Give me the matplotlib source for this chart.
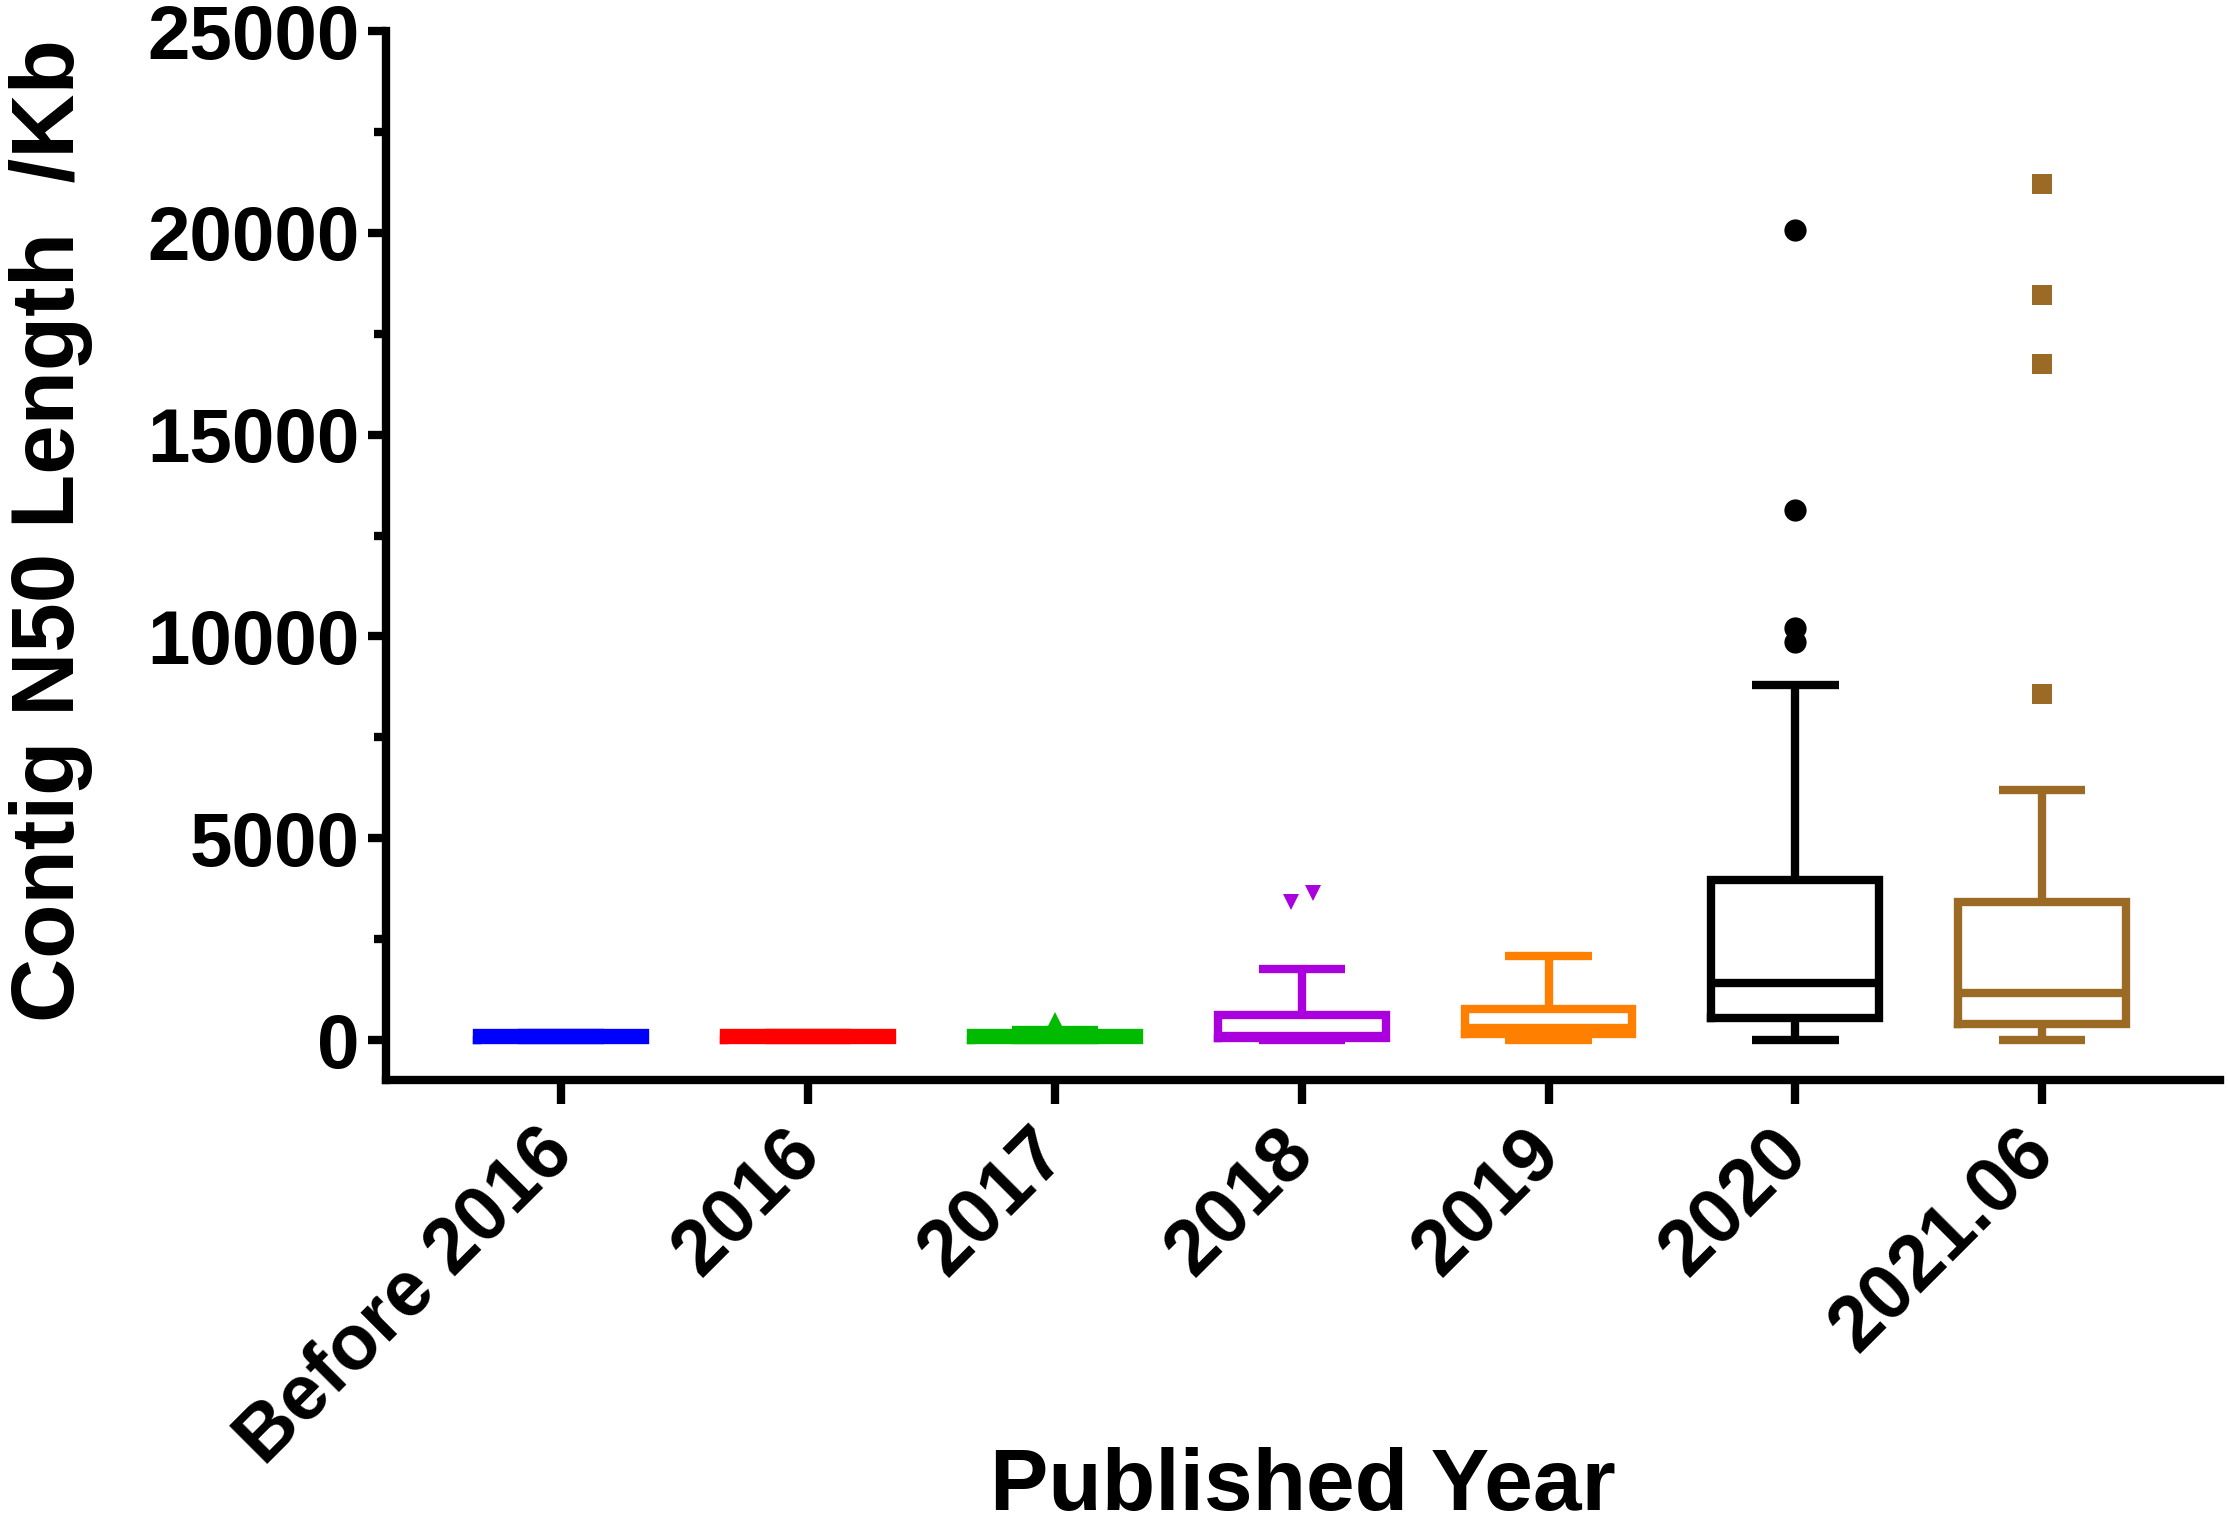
import matplotlib
matplotlib.use('Agg')
import matplotlib.pyplot as plt
from matplotlib.ticker import MultipleLocator

plt.rcParams['font.family'] = ['Liberation Sans', 'DejaVu Sans']
plt.rcParams['font.weight'] = 'bold'

# values (Kb)
categories = ['Before 2016', '2016', '2017', '2018', '2019', '2020', '2021.06']
whislo = [0, 0, 0, 0, 5, 0, 0]
q1 = [0, 0, 0, 60, 140, 537, 392]
med = [40, 40, 40, 110, 290, 1425, 1178]
q3 = [180, 180, 180, 632, 773, 3954, 3425]
whishi = [180, 180, 260, 1765, 2095, 8788, 6185]
outliers = [[], [], [500], [3430, 3640], [], [9860, 10200, 13140, 20080], [8580, 16750, 18470, 21200]]

colors = ['#0000FF', '#FF0000', '#00BB00', '#AA00DD', '#FF8000', '#000000', '#9B6A24']
markers = ['o', 'o', '^', 'v', 'o', 'o', 's']
msizes = [10, 10, 11, 12, 10, 16, 15]
flier_jitter = [[], [], [0], [-0.042, 0.047], [], [0, 0, 0, 0], [0, 0, 0, 0]]

LW = 6

fig = plt.figure(figsize=(22.28, 15.28), dpi=100)
ax = fig.add_axes([0.1732, 0.2929, 0.9964 - 0.1732, 0.9797 - 0.2929])

for i in range(len(categories)):
    st = {'med': med[i], 'q1': q1[i], 'q3': q3[i],
          'whislo': whislo[i], 'whishi': whishi[i], 'fliers': []}
    c = colors[i]
    ax.bxp([st], positions=[i], widths=0.68, capwidths=0.35, showfliers=False,
           manage_ticks=False,
           boxprops=dict(color=c, linewidth=LW, solid_joinstyle='miter'),
           medianprops=dict(color=c, linewidth=LW, solid_capstyle='butt'),
           whiskerprops=dict(color=c, linewidth=LW, solid_capstyle='butt'),
           capprops=dict(color=c, linewidth=LW, solid_capstyle='butt'))
    for v, dx in zip(outliers[i], flier_jitter[i]):
        ax.plot([i + dx], [v], marker=markers[i], color=c, markersize=msizes[i],
                linestyle='none', markeredgewidth=0)

ax.set_xlim(-0.71, 6.72)
ax.set_ylim(-1000, 25000)

for s in ['top', 'right']:
    ax.spines[s].set_visible(False)
for s in ['left', 'bottom']:
    ax.spines[s].set_linewidth(LW)
    ax.spines[s].set_capstyle('projecting')

ax.set_xticks(range(len(categories)))
ax.set_xticklabels(categories, rotation=45, ha='right', va='center',
                   rotation_mode='anchor', fontsize=56, fontweight='bold')
ax.set_yticks([0, 5000, 10000, 15000, 20000, 25000])
ax.yaxis.set_minor_locator(MultipleLocator(2500))
ax.tick_params(axis='y', which='major', length=13, width=LW, pad=6, labelsize=55)
ax.tick_params(axis='y', which='minor', length=8.4, width=LW)
ax.tick_params(axis='x', which='major', length=17.6, width=LW, pad=26)
for lab in ax.get_yticklabels():
    lab.set_fontweight('bold')

ax.set_ylabel('Contig N50 Length  /Kb', fontsize=64, fontweight='bold')
ax.yaxis.set_label_coords(-0.170, 0.5236)
ax.yaxis.label.set_verticalalignment('baseline')
ax.set_xlabel('Published Year', fontsize=63, fontweight='bold')
ax.xaxis.set_label_coords(0.5, -0.4092)
ax.xaxis.label.set_verticalalignment('baseline')

fig.savefig('out.png', dpi=100)
